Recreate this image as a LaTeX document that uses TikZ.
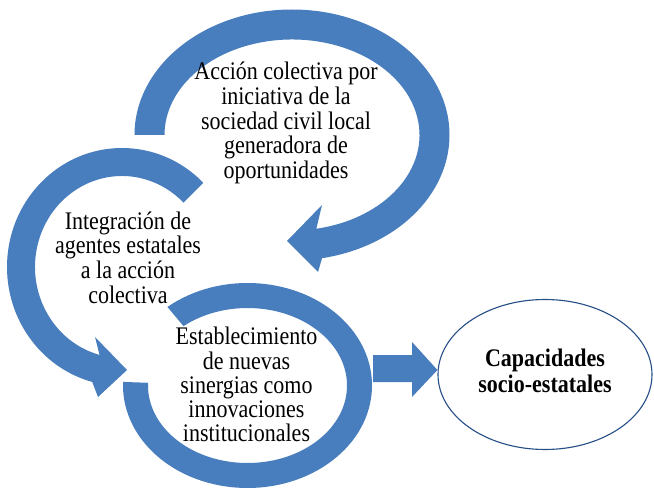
\documentclass[tikz,border=0pt]{standalone}
\usepackage{fontspec}
\usepackage{graphicx}
\setmainfont{Liberation Serif}
\usetikzlibrary{shapes.geometric,calc}
\definecolor{ringblue}{RGB}{72,125,190}
\definecolor{edgeblue}{RGB}{38,78,135}
\newcommand{\vtxt}[1]{\scalebox{1}[1.15]{\begin{tabular}{@{}c@{}}#1\end{tabular}}}
\begin{document}
\begin{tikzpicture}[x=1pt,y=1pt,
  ringfill/.style={fill=ringblue,draw=none},
  ringtext/.style={align=center,font=\fontsize{22}{20.9}\selectfont,inner sep=0pt,text=black},
  goalnode/.style={ellipse,draw=edgeblue,line width=1.1pt,fill=white,minimum width=214pt,minimum height=150pt,inner sep=0pt,align=center,font=\bfseries\fontsize{22}{22.6}\selectfont}
]
\useasboundingbox (0,0) rectangle (654,491);
\fill[white] (0,0) rectangle (654,491);

% top ring (clockwise, arrow at bottom pointing left)
\coordinate (ct) at (292,356);
\fill[ringfill] ($(ct)+(180:157.5pt and 125.5pt)$)
  arc[start angle=180,end angle=-79,x radius=157.5pt,y radius=125.5pt]
  -- (318,219) -- (287,250) -- (322,286)
  -- ($(ct)+(-79:127.5pt and 95.5pt)$)
  arc[start angle=-79,end angle=180,x radius=127.5pt,y radius=95.5pt] -- cycle;

% middle ring (counterclockwise, arrow at bottom pointing right)
\coordinate (cm) at (122,224);
\fill[ringfill] ($(cm)+(45:115pt and 119pt)$)
  arc[start angle=45,end angle=255,x radius=115pt,y radius=119pt]
  -- (98,94) -- (127,121) -- (95,154)
  -- ($(cm)+(255:87pt and 91pt)$)
  arc[start angle=255,end angle=45,x radius=87pt,y radius=91pt] -- cycle;

% bottom ring
\coordinate (cb) at (247.5,105.5);
\fill[ringfill] ($(cb)+(130:124.5pt and 102.5pt)$)
  arc[start angle=130,end angle=-182,x radius=124.5pt,y radius=102.5pt]
  -- ($(cb)+(-182:99.5pt and 77.5pt)$)
  arc[start angle=-182,end angle=130,x radius=99.5pt,y radius=77.5pt] -- cycle;

% texts
\node[ringtext] (t1) at (286,367) {\vtxt{Acción colectiva por\\iniciativa de la\\sociedad civil local\\generadora de\\oportunidades}};
\node[ringtext] (t2) at (128,230) {\vtxt{Integración de\\agentes estatales\\a la acción\\colectiva}};
\node[ringtext] (t3) at (246.5,103) {\vtxt{Establecimiento\\de nuevas\\sinergias como\\innovaciones\\institucionales}};

% goal ellipse
\node[goalnode] (cap) at (545,116.5) {\vtxt{Capacidades\\socio-estatales}};

% block arrow to the ellipse
\coordinate (tipR) at ($(cap.west)+(0,4.5)$);
\fill[ringfill] (373,109) -- (412,109) -- (412,94) -- (tipR) -- (412,149) -- (412,136) -- (373,136) -- cycle;
\end{tikzpicture}
\end{document}
